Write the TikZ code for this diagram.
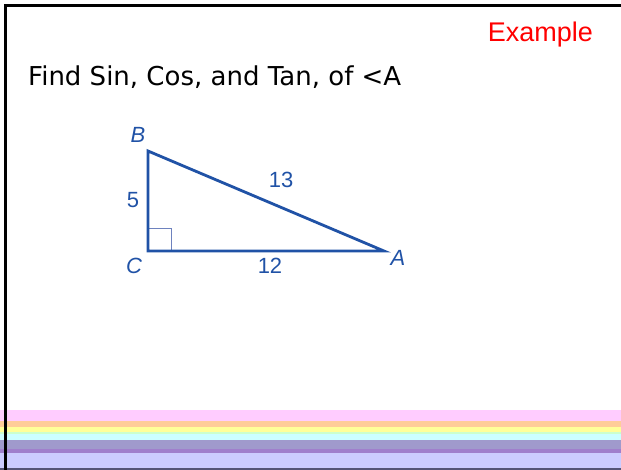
\documentclass[tikz,border=0pt]{standalone}
\usepackage{fontspec}
\newfontfamily\titlefont{DejaVu Sans}
\newfontfamily\arialfont{Liberation Sans}
\definecolor{tri}{RGB}{32,82,166}
\definecolor{sq}{RGB}{110,130,190}
\definecolor{spink}{HTML}{FFCCFF}
\definecolor{sorange}{HTML}{FFCC99}
\definecolor{syellow}{HTML}{FFFF99}
\definecolor{sgreen}{HTML}{CCFFCC}
\definecolor{scyan}{HTML}{CCFFFF}
\definecolor{sgray}{HTML}{A09ACC}
\definecolor{spurple}{HTML}{A07FCC}
\definecolor{slav}{HTML}{CCCCFF}
\definecolor{sbottom}{HTML}{555577}
\tikzset{
  trilabel/.style={text=tri, font=\arialfont\fontsize{22}{22}\selectfont, inner sep=0pt},
  vlabel/.style={text=tri, font=\arialfont\itshape\fontsize{22}{22}\selectfont, inner sep=0pt},
  side/.style={draw=tri, line width=2.8pt, line join=miter},
}
\begin{document}
\begin{tikzpicture}[x=1pt,y=-1pt]
\useasboundingbox (0,0) rectangle (621,470);
% stripes
\fill[spink] (0,410) rectangle (621,421.3);
\fill[sorange] (0,421.3) rectangle (621,426.7);
\fill[syellow] (0,426.7) rectangle (621,432.3);
\fill[sgreen] (0,432.3) rectangle (621,434.3);
\fill[scyan] (0,434.3) rectangle (621,440);
\fill[sgray] (0,440) rectangle (621,448.7);
\fill[spurple] (0,448.7) rectangle (621,453.3);
\fill[slav] (0,453.3) rectangle (621,468.3);
\fill[sbottom] (0,468.3) rectangle (621,470);
% frame
\draw[line width=3pt, black] (5.5,470) -- (5.5,5.5) -- (621,5.5);
% texts
\node[anchor=base east, text=red, font=\arialfont\fontsize{27}{27}\selectfont, inner sep=0pt] (ex) at (593,42) {Example};
\node[anchor=base west, font=\titlefont\fontsize{26}{26}\selectfont, inner sep=0pt] (title) at (28,86) {Find Sin, Cos, and Tan, of <A};
% triangle
\coordinate (C) at (148,251);
\coordinate (B) at (148,151);
\coordinate (A) at (384,251);
\draw[draw=sq, line width=1pt] (148,229) -- (171,229) -- (171,251);
\draw[side] (B) -- (C) -- (A) -- cycle;
\begin{scope}
\clip (100,126) rectangle (200,160);
\node[vlabel, anchor=base] (lb) at (138,143) {B};
\end{scope}
\node[vlabel, anchor=base] (lc) at (134,274) {C};
\node[vlabel, anchor=base] (la) at (398,266) {A};
\node[trilabel, anchor=base] (l5) at (133,208) {5};
\node[trilabel, anchor=base] (l13) at (281,188) {13};
\node[trilabel, anchor=base] (l12) at (270,274) {12};
\end{tikzpicture}
\end{document}
